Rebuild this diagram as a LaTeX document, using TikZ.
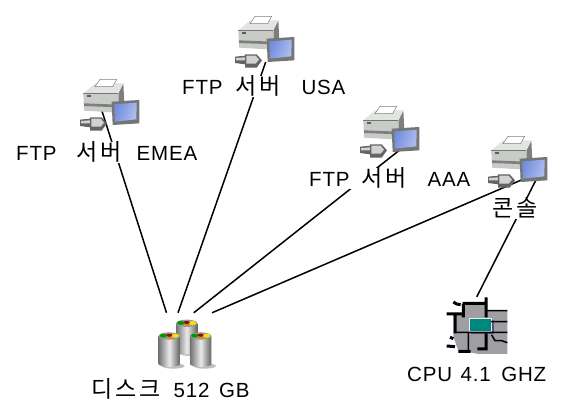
\documentclass[tikz,border=0pt]{standalone}
\usepackage{fontspec}
\setmainfont{Liberation Sans}[LetterSpace=4]
\newfontfamily\krfont{Noto Sans CJK KR}[LetterSpace=12]
\usetikzlibrary{shapes.geometric}
\definecolor{prbody}{RGB}{200,203,200}
\definecolor{prside}{RGB}{125,127,125}
\definecolor{prtop}{RGB}{225,228,225}
\definecolor{monframe}{RGB}{115,118,115}
\definecolor{monblue}{RGB}{115,140,220}
\definecolor{monlight}{RGB}{175,190,240}
\definecolor{plugl}{RGB}{210,210,210}
\definecolor{plugd}{RGB}{100,100,100}
\definecolor{cpugray}{RGB}{160,158,162}
\definecolor{cputeal}{RGB}{0,135,125}
\definecolor{cpushade}{RGB}{85,80,130}
\newcommand{\kr}[1]{{\krfont\fontsize{23}{25}\selectfont #1}}
\tikzset{
  lnk/.style={draw=black,line width=1.5pt},
  lbl/.style={fill=white,inner sep=0pt,font=\fontsize{20.5}{23}\selectfont,anchor=base west},
  anch/.style={inner sep=0pt,minimum size=0pt},
  srv/.pic={
    \fill[prside] (175,70) -- (190,40) -- (193,100) -- (175,128) -- cycle;
    \fill[prbody] (70,70) -- (175,70) -- (175,128) -- (72,122) -- cycle;
    \fill[prtop] (70,70) -- (105,40) -- (190,40) -- (175,70) -- cycle;
    \fill[white,draw=prside,line width=.5pt] (105,50) -- (120,28) -- (170,28) -- (158,50) -- cycle;
    \fill[prside] (72,100) -- (175,104) -- (175,112) -- (72,108) -- cycle;
    \fill[monframe!80!black] (80,76) rectangle (94,81);
    \draw[monframe,line width=.5pt] (70,70) -- (175,70);
    \fill[monframe] (155,95) -- (238,90) -- (238,160) -- (158,165) -- cycle;
    \shade[left color=monblue,right color=monlight,shading angle=70] (163,103) -- (230,98) -- (229,148) -- (164,155) -- cycle;
    \fill[plugd] (60,149) -- (90,146) -- (90,172) -- (60,168) -- cycle;
    \fill[plugl] (63,153) -- (90,151) -- (90,160) -- (63,160) -- cycle;
    \fill[plugd] (90,142) -- (125,142) -- (141,160) -- (125,182) -- (90,182) -- cycle;
    \fill[plugl] (94,146) -- (122,146) -- (132,158) -- (122,170) -- (94,170) -- cycle;
  },
  cyl/.pic={
    \fill[black!25] (12,0) ellipse (34 and 8);
    \shade[left color=black!55,right color=black!62,middle color=black!8] (-32,-90) -- (32,-90) -- (32,-6) arc (0:180:32 and 9) -- cycle;
    \fill[black!40] (0,-90) ellipse (32 and 11);
    \fill[green!60!black] (-18,-91) ellipse (11 and 6);
    \fill[yellow!80!orange] (18,-91) ellipse (11 and 6);
    \fill[orange] (2,-84) ellipse (9 and 3);
    \fill[red!70!black] (0,-93) ellipse (9 and 4);
    \fill[black!80] (0,-90) ellipse (6 and 2);
  },
  cpuic/.pic={
    \fill[cpugray] (160,100) -- (190,100) -- (190,72) -- (258,72) -- (258,92) -- (322,92) -- (322,222) -- (235,222) -- (200,215) -- (175,212) -- (160,170) -- cycle;
    \fill[cpushade] (213,120) rectangle (283,161);
    \fill[white!80!cpugray] (206,113) rectangle (275,157);
    \fill[cputeal] (209,116) rectangle (273,154);
    \draw[black,line width=3pt]
      (160,66) -- (170,72) -- (182,74)
      (188,70) -- (258,70) (258,52) -- (258,112)
      (140,102) -- (190,102) (190,72) -- (190,112)
      (165,102) -- (165,160) (150,172) -- (160,176) (140,198) -- (165,200) (175,214) -- (212,214) (232,207) -- (258,207) -- (258,160);
    \draw[black,line width=1.5pt]
      (258,92) -- (322,92) (273,125) -- (322,125) (165,157) -- (322,157)
      (205,157) -- (205,214) (275,165) -- (285,182) -- (305,182) -- (322,188);
  }
}
\begin{document}
\begin{tikzpicture}[x=1pt,y=-1pt]
\useasboundingbox (0,0) rectangle (563,403);
\coordinate (emea) at (101,108);
\coordinate (usa) at (265.7,62);
\coordinate (aaa) at (406,145);
\coordinate (con) at (540,172);
\node[anch,minimum width=80pt,minimum height=34pt] (disk) at (172,330) {};
\node[anch,minimum width=60pt,minimum height=58pt] (cpu) at (462,326) {};
\draw[lnk] (emea) -- (disk);
\draw[lnk] (usa) -- (disk);
\draw[lnk] (aaa) -- (disk);
\draw[lnk] (con) -- (disk);
\draw[lnk] (con) -- (cpu);
\node[lbl] (lemea) at (16,161) {FTP\hspace{20pt}\kr{서버}\hspace{15pt}EMEA};
\node[lbl] (lusa) at (182,95) {FTP\hspace{13pt}\kr{서버}\hspace{21pt}USA};
\node[lbl] (laaa) at (309,187) {FTP\hspace{12pt}\kr{서버}\hspace{21pt}AAA};
\node[lbl] (lcon) at (492,217) {\kr{콘솔}};
\node[lbl] (lcpu) at (407,382) {CPU\hspace{2pt} 4.1\hspace{4pt} GHZ};
\node[lbl] (ldisk) at (91,398) {\kr{디스크}\hspace{7pt} 512\hspace{3pt} GB};
\pic[scale=1/3] at (60,70) {srv};
\pic[scale=1/3] at (215,7) {srv};
\pic[scale=1/3] at (340,97) {srv};
\pic[scale=1/3] at (468,127) {srv};
\pic[scale=1/3] at (186.7,353.3) {cyl};
\pic[scale=1/3] at (169.3,366) {cyl};
\pic[scale=1/3] at (200.7,366) {cyl};
\pic[scale=1/3] at (400,280) {cpuic};
\end{tikzpicture}
\end{document}
